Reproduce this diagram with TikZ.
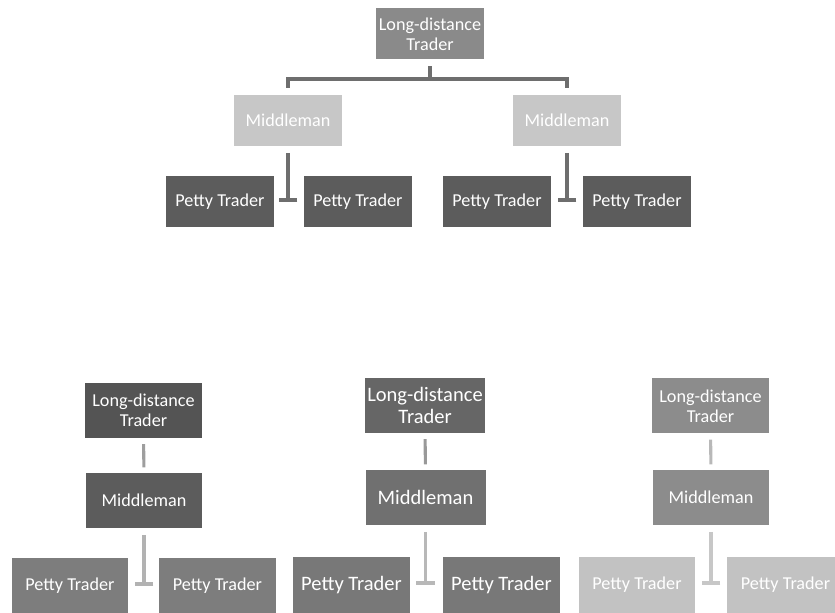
\documentclass[tikz,border=0pt]{standalone}
\usepackage{fontspec}
\setmainfont{Carlito}
\usetikzlibrary{arrows.meta}

\begin{document}
\begin{tikzpicture}[x=0.03cm,y=0.03cm,
    topbox/.style={fill=#1,text=white,inner sep=0pt,align=center,minimum width=3.25cm,minimum height=1.53cm,font=\fontsize{15.5}{17}\selectfont},
    lowbox/.style={fill=#1,text=white,inner sep=0pt,align=center,minimum width=3.5cm,minimum height=1.65cm,font=\fontsize{15.5}{17}\selectfont},
    bus/.style={draw=black!57,line width=3.4pt,shorten <=0.2cm,shorten >=0.2cm},
    tee/.style={draw=#1,line width=3.4pt,shorten <=0.2cm,-{Bar[width=16pt,line width=3.4pt]}},
    stub/.style={draw=#1,line width=2.6pt,shorten <=0.18cm,shorten >=0.16cm}]
  \useasboundingbox (0,0) rectangle (835,613);

  \node[topbox=black!46] (ldt) at (430,579) {Long-distance\\Trader};
  \node[topbox=black!22] (ml) at (288,492.5) {Middleman};
  \node[topbox=black!22] (mr) at (567,492.5) {Middleman};
  \node[topbox=black!64] (p1) at (220,411) {Petty Trader};
  \node[topbox=black!64] (p2) at (358,411) {Petty Trader};
  \node[topbox=black!64] (p3) at (497,411) {Petty Trader};
  \node[topbox=black!64] (p4) at (637,411) {Petty Trader};
  \draw[bus] (ldt.south) -- ++(0,-19) -| (ml.north);
  \draw[bus] (ldt.south) -- ++(0,-19) -| (mr.north);
  \draw[tee=black!57] (ml.south) -- (ml.south |- p1.center);
  \draw[tee=black!57] (mr.south) -- (mr.south |- p3.center);

  \node[lowbox=black!67] (aldt) at (143.5,202.5) {Long-distance\\Trader};
  \node[lowbox=black!64] (amid) at (144,112.5) {Middleman};
  \node[lowbox=black!51] (ap1) at (70,27) {Petty Trader};
  \node[lowbox=black!51] (ap2) at (217.5,27) {Petty Trader};
  \draw[stub=black!38] (aldt) -- (amid);
  \draw[tee=black!30,line width=2.6pt] (amid.south) -- (amid.south |- ap1.center);

  \node[lowbox=black!60,minimum width=3.6cm,font=\fontsize{17.5}{19}\selectfont] (bldt) at (425,207.5) {Long-distance\\Trader};
  \node[lowbox=black!56,minimum width=3.6cm,font=\fontsize{17.5}{19}\selectfont] (bmid) at (425.5,115.5) {Middleman};
  \node[lowbox=black!53,font=\fontsize{17.5}{19}\selectfont] (bp1) at (351.5,28) {Petty Trader};
  \node[lowbox=black!53,font=\fontsize{17.5}{19}\selectfont] (bp2) at (501.5,28) {Petty Trader};
  \draw[stub=black!40] (bldt) -- (bmid);
  \draw[tee=black!28,line width=2.6pt] (bmid.south) -- (bmid.south |- bp1.center);

  \node[lowbox=black!45] (cldt) at (710.5,207) {Long-distance\\Trader};
  \node[lowbox=black!45] (cmid) at (711,115.5) {Middleman};
  \node[lowbox=black!24] (cp1) at (637,28) {Petty Trader};
  \node[lowbox=black!24] (cp2) at (785.5,28) {Petty Trader};
  \draw[stub=black!28] (cldt) -- (cmid);
  \draw[tee=black!22,line width=2.6pt] (cmid.south) -- (cmid.south |- cp1.center);
\end{tikzpicture}
\end{document}
